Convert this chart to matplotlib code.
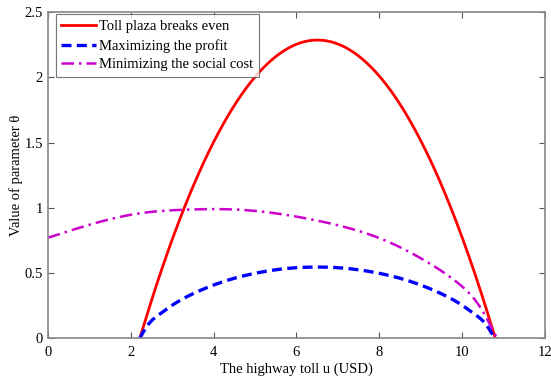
import numpy as np
import matplotlib.pyplot as plt

# theta vs highway toll, read at a handful of toll levels
u_even = [2.22, 2.5, 3.0, 3.5, 4.0, 4.5, 5.0, 5.5, 6.0, 6.5, 7.0, 7.5, 8.0,
          8.5, 9.0, 9.5, 10.0, 10.5, 10.8]
th_even = [0.0, 0.288, 0.756, 1.161, 1.504, 1.785, 2.004, 2.160, 2.255, 2.287,
           2.257, 2.165, 2.011, 1.795, 1.516, 1.176, 0.773, 0.308, 0.0]

u_profit = [2.22, 2.4, 2.7, 3.0, 3.5, 4.0, 4.5, 5.0, 5.5, 6.0, 6.5, 7.0, 7.5,
            8.0, 8.5, 9.0, 9.5, 10.0, 10.3, 10.6, 10.78]
th_profit = [0.0, 0.095, 0.184, 0.252, 0.340, 0.407, 0.459, 0.497, 0.524, 0.540,
             0.545, 0.540, 0.524, 0.497, 0.459, 0.407, 0.340, 0.252, 0.184,
             0.095, 0.0]

u_social = [0.0, 0.9, 1.74, 2.54, 3.3, 3.99, 4.96, 5.93, 6.97, 8.02, 9.07,
            9.87, 10.43, 10.84]
th_social = [0.77, 0.86, 0.93, 0.97, 0.985, 0.99, 0.977, 0.936, 0.868, 0.765, 0.60,
             0.43, 0.24, 0.0]

plt.rcParams['font.family'] = ['Liberation Serif', 'DejaVu Serif']


def smooth(x, y, n=300):
    # natural cubic spline through the read points
    x = np.asarray(x, float)
    y = np.asarray(y, float)
    k = len(x)
    h = np.diff(x)
    A = np.zeros((k, k))
    r = np.zeros(k)
    A[0, 0] = A[-1, -1] = 1.0
    for i in range(1, k - 1):
        A[i, i - 1] = h[i - 1]
        A[i, i] = 2 * (h[i - 1] + h[i])
        A[i, i + 1] = h[i]
        r[i] = 6 * ((y[i + 1] - y[i]) / h[i] - (y[i] - y[i - 1]) / h[i - 1])
    m = np.linalg.solve(A, r)
    xs = np.linspace(x[0], x[-1], n)
    j = np.clip(np.searchsorted(x, xs) - 1, 0, k - 2)
    a = x[j + 1] - xs
    b = xs - x[j]
    hj = h[j]
    ys = (m[j] * a**3 + m[j + 1] * b**3) / (6 * hj) \
        + (y[j] / hj - m[j] * hj / 6) * a + (y[j + 1] / hj - m[j + 1] * hj / 6) * b
    return xs, ys


fig = plt.figure(figsize=(5.51, 3.79), dpi=100)
ax = fig.add_axes([0.087, 0.108, 0.902, 0.8595])

ax.plot(*smooth(u_even, th_even), '-', color='#ff0000', lw=2.0,
        label='Toll plaza breaks even')
ax.plot(*smooth(u_profit, th_profit), '--', color='#0000ff', lw=2.4,
        dashes=(3, 1.6), label='Maximizing the profit')
ax.plot(*smooth(u_social, th_social), '-.', color='#cc00cc', lw=1.8,
        dashes=(5, 2, 1, 2), label='Minimizing the social cost')

ax.set_xlim(0, 12)
ax.set_ylim(0, 2.5)
ax.set_xticks(np.arange(0, 13, 2))
ax.set_yticks([0, 0.5, 1, 1.5, 2, 2.5])
ax.set_yticklabels(['0', '0.5', '1', '1.5', '2', '2.5'])
ax.tick_params(direction='in', top=True, right=True, labelsize=10.5,
               length=4, color='#555555', pad=3.5)
ax.tick_params(axis='x', pad=5.5)
for s in ax.spines.values():
    s.set_color('#888888')
    s.set_linewidth(1.2)

ax.set_xlabel('The highway toll u (USD)', fontsize=10.5, labelpad=2.5)
ax.set_ylabel('Value of parameter θ', fontsize=10.5, labelpad=1)

leg = ax.legend(loc='upper left', bbox_to_anchor=(0.0155, 0.994),
                borderaxespad=0, fontsize=10.5, frameon=True, fancybox=False,
                handlelength=2.4, handletextpad=0.15, borderpad=0.4,
                labelspacing=0.38)
leg.get_frame().set_edgecolor('#555555')
leg.get_frame().set_linewidth(0.8)

fig.savefig('out.png', dpi=100)
